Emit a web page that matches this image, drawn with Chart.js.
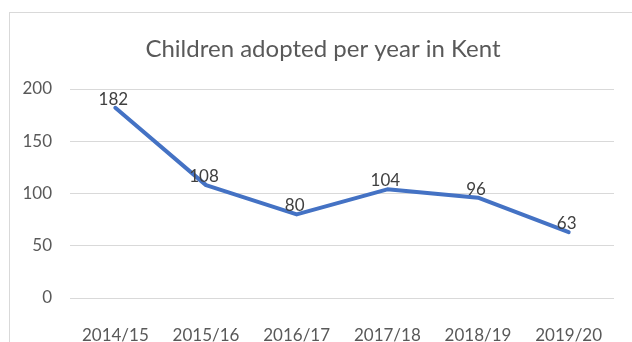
<!DOCTYPE html>
<html>
<head>
<meta charset="utf-8">
<script src="https://cdn.jsdelivr.net/npm/chart.js@4"></script>
<style>
  html, body { margin: 0; padding: 0; background: #fff; overflow: hidden; }
  #wrap { position: relative; width: 632px; height: 342px; }
  #frame { position: absolute; left: 9px; top: 12px; width: 660px; height: 360px; border: 1px solid #d9d9d9; }
  #chart { position: absolute; left: 0; top: 0; }
</style>
</head>
<body>
<div id="wrap">
  <div id="frame"></div>
  <canvas id="chart" width="632" height="342"></canvas>
</div>
<script>
// chart data
const years = ['2014/15', '2015/16', '2016/17', '2017/18', '2018/19', '2019/20'];
const adopted = [182, 108, 80, 104, 96, 63];
const chartTitle = 'Children adopted per year in Kent';

const FONT = 'Lato, "Open Sans", sans-serif';

// title and value labels, drawn like the Excel chart
const textPlugin = {
    id: 'excelText',
    afterDatasetsDraw(chart) {
        const ctx = chart.ctx;
        ctx.save();
        ctx.fillStyle = '#595959';
        ctx.font = '24px ' + FONT;
        ctx.textAlign = 'center';
        ctx.textBaseline = 'alphabetic';
        ctx.fillText(chartTitle, chart.width / 2 + 7, 57);

        const meta = chart.getDatasetMeta(0);
        ctx.fillStyle = '#404040';
        ctx.font = '17px ' + FONT;
        meta.data.forEach((pt, i) => {
            ctx.fillText(String(adopted[i]), pt.x - 2, pt.y - 3);
        });
        ctx.restore();
    }
};

const ctx = document.getElementById('chart').getContext('2d');
new Chart(ctx, {
    type: 'line',
    data: {
        labels: years,
        datasets: [{
            label: 'Adopted',
            data: adopted,
            borderColor: '#4472C4',
            borderWidth: 4,
            borderJoinStyle: 'round',
            borderCapStyle: 'round',
            pointRadius: 0,
            tension: 0,
            fill: false,
        }],
    },
    options: {
        responsive: false,
        animation: false,
        layout: {
            padding: { top: 89, right: 18, bottom: 0, left: 0 },
        },
        plugins: {
            legend: { display: false },
            title: { display: false },
            tooltip: { enabled: false },
        },
        scales: {
            x: {
                offset: true,
                grid: { display: false },
                border: { display: false },
                ticks: {
                    color: '#595959',
                    font: { family: FONT, size: 17 },
                    padding: 19,
                    maxRotation: 0,
                },
                afterFit: (scale) => { scale.height = 44; },
            },
            y: {
                min: 0,
                max: 200,
                grid: { color: '#d9d9d9', lineWidth: 1, drawTicks: false },
                border: { display: false },
                ticks: {
                    stepSize: 50,
                    color: '#595959',
                    font: { family: FONT, size: 17 },
                    padding: 18,
                },
                afterFit: (scale) => { scale.width = 70; },
            },
        },
    },
    plugins: [textPlugin],
});
</script>
</body>
</html>
